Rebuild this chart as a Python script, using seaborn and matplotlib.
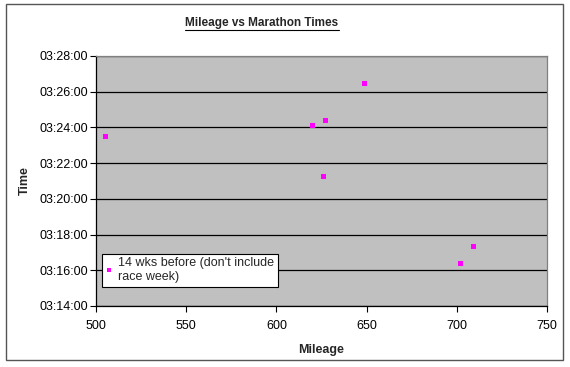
import seaborn as sns
import matplotlib.pyplot as plt
import matplotlib.ticker as mticker
from matplotlib.lines import Line2D
from matplotlib.patches import Rectangle
import pandas as pd

# --- Data ---
mileage = [505, 620, 627, 649, 626, 702, 709]
race_times = ["03:23:30", "03:24:08", "03:24:24", "03:26:26", "03:21:16", "03:16:24", "03:17:19"]
series_name = "14 wks before (don't include\nrace week)"


def to_seconds(t):
    h, m, s = (int(v) for v in t.split(":"))
    return h * 3600 + m * 60 + s


data = pd.DataFrame({
    "Mileage": mileage,
    "Time": [to_seconds(t) for t in race_times],
    "Series": series_name,
})

# --- Styling ---
sns.set_style("white")
plt.rcParams["font.family"] = ["Liberation Sans", "DejaVu Sans"]

fig = plt.figure(figsize=(5.7, 3.67), dpi=100)
fig.patches.append(Rectangle((6 / 570, 1 - 360 / 367), 557 / 570, 356 / 367,
                             transform=fig.transFigure, fill=False,
                             edgecolor="#555555", linewidth=1.0))
ax = fig.add_axes([96 / 570, 1 - 306 / 367, 451 / 570, 250 / 367])
ax.set_facecolor("#C0C0C0")

sns.scatterplot(data=data, x="Mileage", y="Time", hue="Series",
                palette=["#FF00FF"], marker="s", s=13, linewidth=0, ax=ax, zorder=3)

ax.set_xlim(500, 750)
ax.set_ylim(to_seconds("03:14:00"), to_seconds("03:28:00"))
ax.xaxis.set_major_locator(mticker.MultipleLocator(50))
ax.yaxis.set_major_locator(mticker.MultipleLocator(120))
ax.yaxis.set_major_formatter(mticker.FuncFormatter(
    lambda v, p: "%02d:%02d:%02d" % (v // 3600, (v % 3600) // 60, v % 60)))
ax.grid(axis="y", color="black", linewidth=0.9)
ax.set_axisbelow(True)
ax.tick_params(axis="both", direction="out", length=4, width=0.8, labelsize=9,
               colors="black", left=True, bottom=True)
ax.tick_params(axis="x", pad=6)
ax.tick_params(axis="y", pad=2)

for side in ["left", "bottom"]:
    ax.spines[side].set_color("black")
    ax.spines[side].set_linewidth(0.9)
for side in ["top", "right"]:
    ax.spines[side].set_color("#808080")
    ax.spines[side].set_linewidth(0.9)

ax.set_xlabel("Mileage", fontsize=9, fontweight="bold", labelpad=9)
ax.set_ylabel("Time", fontsize=9, fontweight="bold", labelpad=6)

leg = ax.legend(loc="lower left", bbox_to_anchor=(0.013, 0.076), fontsize=9,
                frameon=True, fancybox=False, framealpha=1, edgecolor="black",
                handlelength=0.5, handletextpad=0.5, borderpad=0.3,
                borderaxespad=0, labelspacing=0.2, markerscale=0.7)
leg.get_frame().set_linewidth(0.8)

# Title with underline
title = fig.text(262 / 570, 1 - 23 / 367, "Mileage vs Marathon Times",
                 ha="center", va="center", fontsize=8.5, fontweight="bold")
fig.canvas.draw()
bb = title.get_window_extent()
inv = fig.transFigure.inverted()
(x0, y0), (x1, _) = inv.transform([(bb.x0, bb.y0 - 0.5), (bb.x1, bb.y0)])
fig.lines.append(Line2D([x0, x1], [y0, y0], transform=fig.transFigure,
                        color="black", linewidth=0.8))

fig.savefig("out.png", dpi=100)
plt.close(fig)
